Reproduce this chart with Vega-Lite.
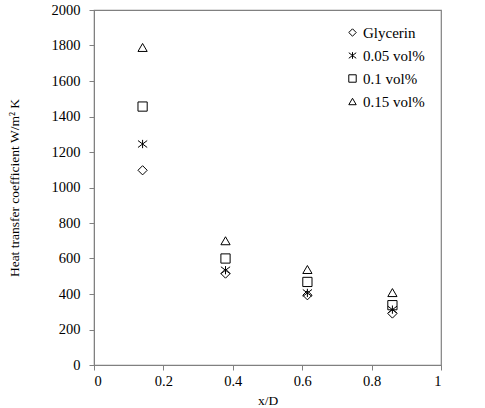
{
  "$schema": "https://vega.github.io/schema/vega-lite/v6.json",
  "autosize": "none",
  "width": 347,
  "height": 355,
  "padding": {"left": 94, "top": 10, "right": 44, "bottom": 43},
  "background": "white",
  "config": {
    "font": "Liberation Serif",
    "view": {"stroke": "#808080", "strokeWidth": 1.2},
    "axis": {
      "grid": false,
      "domainColor": "#808080",
      "tickColor": "#808080",
      "tickSize": 5,
      "labelFont": "Liberation Serif",
      "labelFontSize": 14.5,
      "labelColor": "black",
      "titleFont": "Liberation Serif",
      "titleFontSize": 13.5,
      "titleFontWeight": "normal",
      "titleColor": "black"
    }
  },
  "data": {
    "values": [
      {"xD": 0.14, "h": 1097, "fluid": "Glycerin"},
      {"xD": 0.14, "h": 1245, "fluid": "0.05 vol%"},
      {"xD": 0.14, "h": 1456, "fluid": "0.1 vol%"},
      {"xD": 0.14, "h": 1789, "fluid": "0.15 vol%"},
      {"xD": 0.379, "h": 515, "fluid": "Glycerin"},
      {"xD": 0.379, "h": 534, "fluid": "0.05 vol%"},
      {"xD": 0.379, "h": 600, "fluid": "0.1 vol%"},
      {"xD": 0.379, "h": 700, "fluid": "0.15 vol%"},
      {"xD": 0.615, "h": 393, "fluid": "Glycerin"},
      {"xD": 0.615, "h": 406, "fluid": "0.05 vol%"},
      {"xD": 0.615, "h": 468, "fluid": "0.1 vol%"},
      {"xD": 0.615, "h": 538, "fluid": "0.15 vol%"},
      {"xD": 0.86, "h": 290, "fluid": "Glycerin"},
      {"xD": 0.86, "h": 312, "fluid": "0.05 vol%"},
      {"xD": 0.86, "h": 337, "fluid": "0.1 vol%"},
      {"xD": 0.86, "h": 408, "fluid": "0.15 vol%"}
    ]
  },
  "mark": {"type": "point", "filled": false, "strokeWidth": 1, "color": "black", "size": 85, "opacity": 1},
  "encoding": {
    "x": {
      "field": "xD", "type": "quantitative",
      "scale": {"domain": [0, 1], "nice": false, "zero": true},
      "axis": {"values": [0, 0.2, 0.4, 0.6, 0.8, 1], "format": "~g", "title": "x/D", "titlePadding": 6, "labelPadding": 4}
    },
    "y": {
      "field": "h", "type": "quantitative",
      "scale": {"domain": [0, 2000], "nice": false},
      "axis": {"values": [0, 200, 400, 600, 800, 1000, 1200, 1400, 1600, 1800, 2000], "format": "d", "title": "Heat transfer coefficient W/m² K", "titlePadding": 30, "labelPadding": 9}
    },
    "shape": {
      "field": "fluid", "type": "nominal",
      "scale": {
        "domain": ["Glycerin", "0.05 vol%", "0.1 vol%", "0.15 vol%"],
        "range": ["diamond", "M-1,-0.75L1,0.75M-1,0.75L1,-0.75M0,-0.9L0,0.9", "square", "triangle-up"]
      },
      "legend": {
        "title": null,
        "orient": "none",
        "legendX": 251,
        "legendY": 15,
        "labelFont": "Liberation Serif",
        "labelFontSize": 15,
        "labelColor": "black",
        "symbolSize": 55,
        "symbolStrokeColor": "black",
        "symbolStrokeWidth": 1,
        "symbolFillColor": "transparent",
        "rowPadding": 7,
        "labelOffset": 3
      }
    }
  }
}
